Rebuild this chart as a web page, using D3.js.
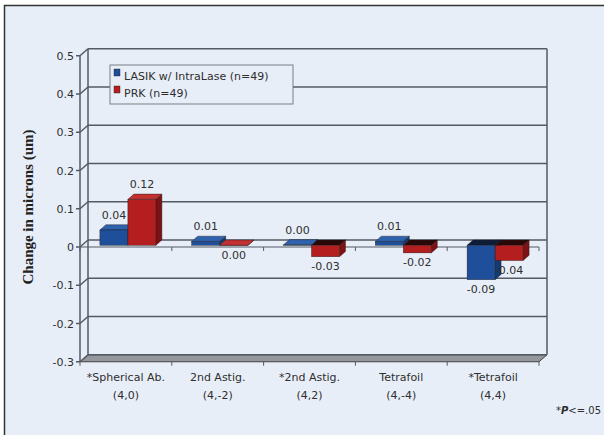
<!DOCTYPE html>
<html>
<head>
<meta charset="utf-8">
<script src="https://cdn.jsdelivr.net/npm/d3@7"></script>
<style>
  body { margin: 0; background: #fff; }
  svg { display: block; }
</style>
</head>
<body>
<div id="chart"></div>
<script>
const categories = [
  ['*Spherical Ab.', '(4,0)'],
  ['2nd Astig.', '(4,-2)'],
  ['*2nd Astig.', '(4,2)'],
  ['Tetrafoil', '(4,-4)'],
  ['*Tetrafoil', '(4,4)'],
];
const seriesNames = ['LASIK w/ IntraLase (n=49)', 'PRK (n=49)'];
const lasik = [0.04, 0.01, 0.001, 0.01, -0.09];
const prk = [0.12, -0.001, -0.03, -0.02, -0.04];
const yTicks = [0.5, 0.4, 0.3, 0.2, 0.1, 0, -0.1, -0.2, -0.3];
const yTickLabels = ['0.5', '0.4', '0.3', '0.2', '0.1', '0', '-0.1', '-0.2', '-0.3'];

const width = 604;
const height = 435;
// back wall of the 3d box
const wall = {left: 88, right: 547, top: 48.75, bottom: 354.75};
const depth = {dx: -8, dy: 7};
const barDepth = 0.75;

const colors = {
  bg: '#e8eef8',
  grid: '#555a62',
  text: '#2e2e2e',
  series: [
    {front: '#1f4f9b', top: '#2f62ad', side: '#163a74', under: '#0d1d38'},
    {front: '#b41e1e', top: '#c23030', side: '#7e1212', under: '#2a0808'},
  ],
};

const svg = d3
  .select('#chart')
  .append('svg')
  .attr('width', width)
  .attr('height', height)
  .style('font-family', '"DejaVu Sans", sans-serif');

svg
  .append('rect')
  .attr('x', 4.5)
  .attr('y', 5.5)
  .attr('width', 640)
  .attr('height', 460)
  .attr('fill', colors.bg)
  .attr('stroke', '#333')
  .attr('stroke-width', 1.5);

const yScale = d3.scaleLinear().domain([-0.3, 0.5]).range([wall.bottom, wall.top]);

const xScale = d3
  .scaleBand()
  .domain(d3.range(categories.length))
  .range([wall.left, wall.right])
  .paddingInner(0.39)
  .paddingOuter(0.195);

const xSub = d3.scaleBand().domain([0, 1]).range([0, xScale.bandwidth()]);

// category slots along the front edge
const xFront = d3
  .scaleBand()
  .domain(d3.range(categories.length))
  .range([wall.left + depth.dx, wall.right + depth.dx]);

// floor
const yFloor = yScale(-0.3);
svg
  .append('polygon')
  .attr('points', [
    [wall.left, yFloor],
    [wall.right, yFloor],
    [wall.right + depth.dx, yFloor + depth.dy],
    [wall.left + depth.dx, yFloor + depth.dy],
  ].join(' '))
  .attr('fill', '#94979c')
  .attr('stroke', '#3e4146')
  .attr('stroke-width', 1);

// gridlines on back wall and side wall
const grid = svg.append('g').attr('stroke', colors.grid).attr('stroke-width', 1.5);
yTicks.forEach((t) => {
  const y = yScale(t);
  grid.append('line')
    .attr('x1', wall.left).attr('x2', wall.right)
    .attr('y1', y).attr('y2', y);
  grid.append('line')
    .attr('x1', wall.left + depth.dx).attr('x2', wall.left)
    .attr('y1', y + depth.dy).attr('y2', y);
  grid.append('line')
    .attr('x1', wall.left + depth.dx - 4).attr('x2', wall.left + depth.dx)
    .attr('y1', y + depth.dy).attr('y2', y + depth.dy);
});
grid.append('line')
  .attr('x1', wall.left).attr('x2', wall.left)
  .attr('y1', wall.top).attr('y2', wall.bottom);
grid.append('line')
  .attr('x1', wall.right).attr('x2', wall.right)
  .attr('y1', wall.top).attr('y2', wall.bottom);
grid.append('line')
  .attr('x1', wall.left + depth.dx).attr('x2', wall.left + depth.dx)
  .attr('y1', wall.top + depth.dy).attr('y2', wall.bottom + depth.dy);

// category axis at zero, front edge
const yZeroFront = yScale(0) + depth.dy;
const zeroAxis = svg.append('g').attr('stroke', colors.grid).attr('stroke-width', 1);
zeroAxis.append('line')
  .attr('x1', wall.left + depth.dx).attr('x2', wall.right + depth.dx)
  .attr('y1', yZeroFront).attr('y2', yZeroFront);
d3.range(categories.length + 1).forEach((i) => {
  const x = wall.left + depth.dx + i * xFront.step();
  zeroAxis.append('line')
    .attr('x1', x).attr('x2', x)
    .attr('y1', yZeroFront).attr('y2', yZeroFront + 4);
  svg.append('line')
    .attr('x1', x).attr('x2', x)
    .attr('y1', yFloor + depth.dy).attr('y2', yFloor + depth.dy + 4)
    .attr('stroke', colors.grid);
});

// y tick labels
svg
  .append('g')
  .selectAll('text')
  .data(yTicks)
  .join('text')
  .attr('x', wall.left + depth.dx - 6)
  .attr('y', (d) => yScale(d) + depth.dy + 4)
  .attr('text-anchor', 'end')
  .style('font-size', '11px')
  .attr('fill', colors.text)
  .text((d, i) => yTickLabels[i]);

// y axis title
svg
  .append('text')
  .attr('transform', `translate(33, 207) rotate(-90)`)
  .attr('text-anchor', 'middle')
  .attr('textLength', 155)
  .attr('lengthAdjust', 'spacingAndGlyphs')
  .style('font-family', '"Liberation Serif", serif')
  .style('font-size', '14px')
  .style('font-weight', 'bold')
  .attr('fill', '#222')
  .text('Change in microns (um)');

// 3d bars
const bars = [];
categories.forEach((c, i) => {
  [lasik, prk].forEach((values, s) => {
    bars.push({cat: i, s, v: values[i]});
  });
});

const fx = depth.dx * barDepth;
const fy = depth.dy * barDepth;
const barG = svg.append('g').attr('stroke', '#1a1a1a').attr('stroke-width', 0.4);

bars.forEach((b) => {
  const x0 = xScale(b.cat) + xSub(b.s);
  const x1 = x0 + xSub.bandwidth();
  const yTop = yScale(Math.max(b.v, 0));
  const yBot = yScale(Math.min(b.v, 0));
  const c = colors.series[b.s];
  const g = barG.append('g');
  g.append('polygon')
    .attr('points', [[x1, yTop], [x1, yBot], [x1 + fx, yBot + fy], [x1 + fx, yTop + fy]].join(' '))
    .attr('fill', c.side);
  g.append('polygon')
    .attr('points', [[x0, yTop], [x1, yTop], [x1 + fx, yTop + fy], [x0 + fx, yTop + fy]].join(' '))
    .attr('fill', b.v <= -0.005 ? c.under : c.top);
  g.append('rect')
    .attr('x', x0 + fx)
    .attr('y', yTop + fy)
    .attr('width', x1 - x0)
    .attr('height', yBot - yTop)
    .attr('fill', c.front);
});

// data labels
svg
  .append('g')
  .selectAll('text')
  .data(bars)
  .join('text')
  .attr('x', (d) => xScale(d.cat) + xSub(d.s) + xSub.bandwidth() / 2 + fx)
  .attr('y', (d) => (d.v >= 0 ? yScale(d.v) - 6 : yScale(d.v) + fy + 13))
  .attr('text-anchor', 'middle')
  .style('font-size', '11px')
  .attr('fill', colors.text)
  .text((d) => (Math.round(d.v * 100) / 100).toFixed(2));

// category labels
const catText = svg
  .append('g')
  .selectAll('text')
  .data(categories)
  .join('text')
  .attr('text-anchor', 'middle')
  .style('font-size', '11px')
  .attr('fill', colors.text);
catText
  .selectAll('tspan')
  .data((d, i) => d.map((line) => ({line, i})))
  .join('tspan')
  .attr('x', (d) => xFront(d.i) + xFront.bandwidth() / 2)
  .attr('y', (d, j) => 381 + j * 18)
  .text((d) => d.line);

// legend
const legend = svg.append('g').attr('transform', 'translate(110, 65)');
legend
  .append('rect')
  .attr('width', 183)
  .attr('height', 39)
  .attr('fill', colors.bg)
  .attr('stroke', '#7a7d83');
seriesNames.forEach((name, i) => {
  legend.append('rect')
    .attr('x', 4)
    .attr('y', 4 + i * 17)
    .attr('width', 6)
    .attr('height', 7)
    .attr('fill', colors.series[i].front)
    .attr('stroke', '#222')
    .attr('stroke-width', 0.4);
  legend.append('text')
    .attr('x', 14)
    .attr('y', 15 + i * 17)
    .style('font-size', '11px')
    .attr('fill', colors.text)
    .text(name);
});

// footnote
const note = svg
  .append('text')
  .attr('x', 556)
  .attr('y', 414)
  .style('font-size', '10px')
  .attr('fill', colors.text);
note.append('tspan').text('*');
note.append('tspan').style('font-style', 'italic').style('font-weight', 'bold').text('P');
note.append('tspan').text('<=.05');
</script>
</body>
</html>
